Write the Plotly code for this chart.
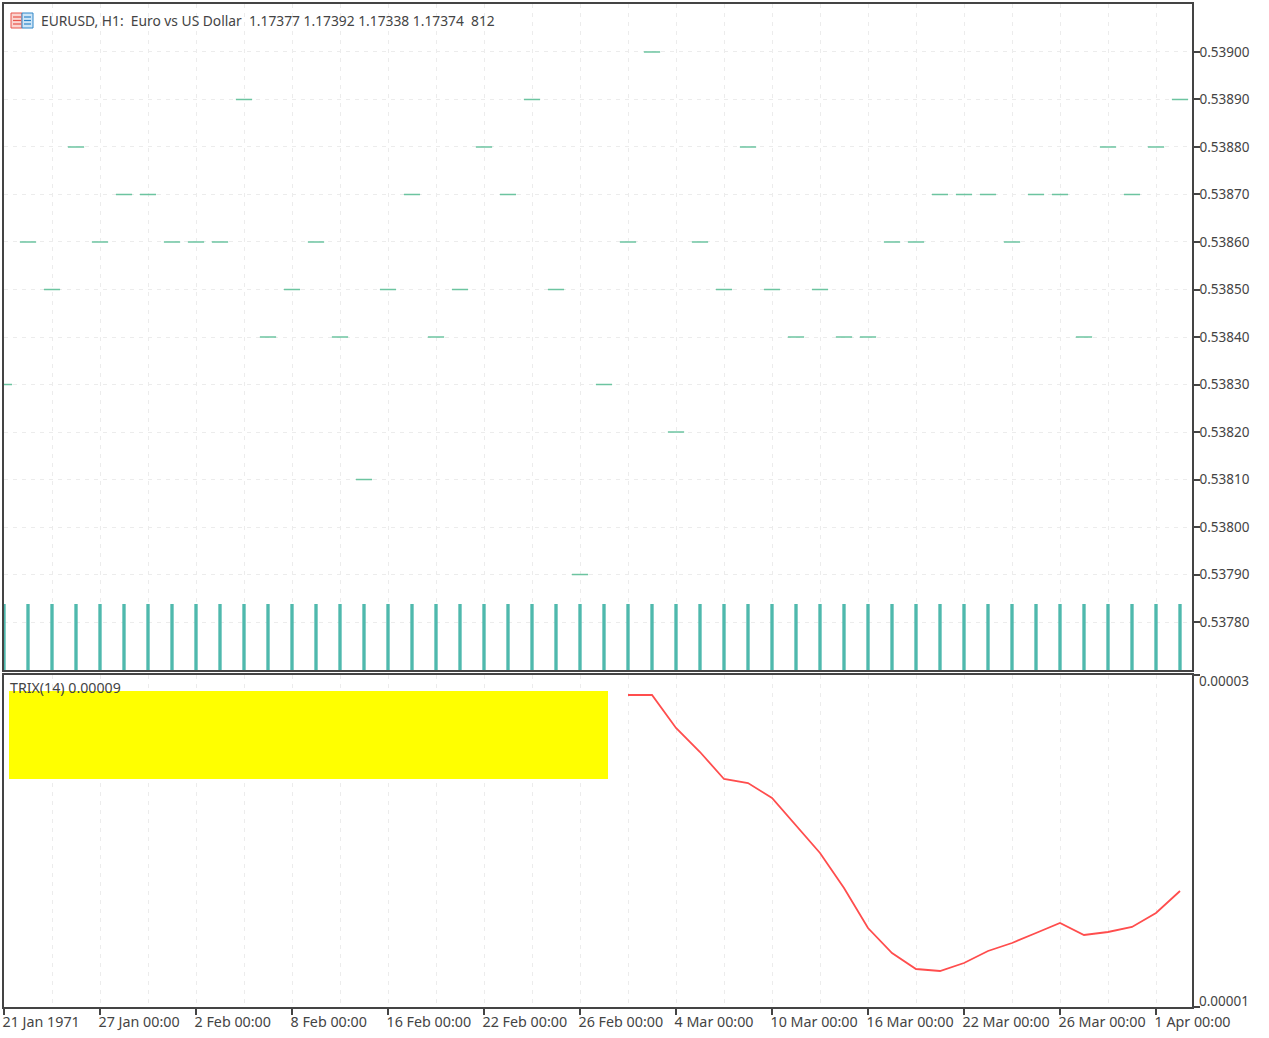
import plotly.graph_objects as go

# ---------- data ----------
BAR_INDEX = list(range(50))
PRICE_DASHES = [
    0.5383, 0.5386, 0.5385, 0.5388, 0.5386, 0.5387, 0.5387, 0.5386, 0.5386, 0.5386,
    0.5389, 0.5384, 0.5385, 0.5386, 0.5384, 0.5381, 0.5385, 0.5387, 0.5384, 0.5385,
    0.5388, 0.5387, 0.5389, 0.5385, 0.5379, 0.5383, 0.5386, 0.5390, 0.5382, 0.5386,
    0.5385, 0.5388, 0.5385, 0.5384, 0.5385, 0.5384, 0.5384, 0.5386, 0.5386, 0.5387,
    0.5387, 0.5387, 0.5386, 0.5387, 0.5387, 0.5384, 0.5388, 0.5387, 0.5388, 0.5389,
]
STEM_TOP = [0.537838] * 50
STEM_BASE = 0.5376
TRIX_INDEX = list(range(26, 50))
TRIX_VALUES = [
    2.8795e-5, 2.8795e-5, 2.6807e-5, 2.5361e-5, 2.3735e-5, 2.3494e-5, 2.2590e-5, 2.0964e-5,
    1.9277e-5, 1.7169e-5, 1.4759e-5, 1.3253e-5, 1.2289e-5, 1.2169e-5, 1.2651e-5, 1.3373e-5,
    1.3855e-5, 1.4458e-5, 1.5060e-5, 1.4337e-5, 1.4518e-5, 1.4819e-5, 1.5663e-5, 1.6988e-5,
]
X_TICK_INDEX = [0, 4, 8, 12, 16, 20, 24, 28, 32, 36, 40, 44, 48]
X_TICK_LABELS = [
    "21 Jan 1971", "27 Jan 00:00", "2 Feb 00:00", "8 Feb 00:00", "16 Feb 00:00",
    "22 Feb 00:00", "26 Feb 00:00", "4 Mar 00:00", "10 Mar 00:00", "16 Mar 00:00",
    "22 Mar 00:00", "26 Mar 00:00", "1 Apr 00:00",
]
PRICE_TICKS = [0.5378, 0.5379, 0.5380, 0.5381, 0.5382, 0.5383, 0.5384,
               0.5385, 0.5386, 0.5387, 0.5388, 0.5389, 0.5390]
PRICE_TICK_LABELS = ["0.53780", "0.53790", "0.53800", "0.53810", "0.53820", "0.53830", "0.53840",
                     "0.53850", "0.53860", "0.53870", "0.53880", "0.53890", "0.53900"]
TRIX_TICKS = [1e-5, 3e-5]
TRIX_TICK_LABELS = ["0.00001", "0.00003"]
TITLE = "EURUSD, H1:\u00a0\u00a0Euro vs US Dollar\u00a0\u00a01.17377 1.17392 1.17338 1.17374\u00a0\u00a0812"
SUBTITLE = "TRIX(14) 0.00009"

# ---------- styling / layout ----------
W, H = 1269, 1038
L, R, T, B = 4, 1192, 4, 1007
FONT = "Noto Sans"
TXT = "#444444"
FRAME = "#444444"
GRID = "#ececec"
FS = 13.5


def px(x):
    return (x - L) / (R - L)


def py(y):
    return (B - y) / (B - T)


def rect(x0, y0, x1, y1, fill, line=None, layer="above"):
    return dict(type="rect", xref="paper", yref="paper", layer=layer,
                x0=px(x0), x1=px(x1), y0=py(y0), y1=py(y1),
                fillcolor=fill, line=dict(width=1 if line else 0, color=line or fill))


fig = go.Figure()
fig.add_trace(go.Bar(x=BAR_INDEX, y=[t - STEM_BASE for t in STEM_TOP], base=STEM_BASE,
                     width=0.14, marker=dict(color="#4fb9ad", line=dict(width=0)),
                     xaxis="x", yaxis="y", hoverinfo="skip"))
fig.add_trace(go.Scatter(x=BAR_INDEX, y=PRICE_DASHES, mode="markers", xaxis="x", yaxis="y",
                         marker=dict(symbol="line-ew", size=11.6,
                                     line=dict(width=1.5, color="#6cc4a0"))))
fig.add_trace(go.Scatter(x=TRIX_INDEX, y=TRIX_VALUES, mode="lines", xaxis="x2", yaxis="y2",
                         line=dict(color="#ff4d4d", width=1.8)))

xcommon = dict(range=[0, 49.5], showline=True, mirror=True, linecolor=FRAME, linewidth=1.5,
               zeroline=False, showgrid=True, gridcolor=GRID, griddash="4px,5px", gridwidth=1,
               tickvals=X_TICK_INDEX,
               minor=dict(dtick=2, tick0=0, showgrid=True, gridcolor=GRID, griddash="4px,5px",
                          gridwidth=1, ticks=""))

shapes = [
    rect(9, 691, 608, 779, "#ffff00"),
    # chart-type icon: red half and blue half with white rows
    rect(11, 13, 22, 28, "#fbd5d0", "#e8544a"),
    rect(22, 13, 33, 28, "#cfe6f7", "#2f86c8"),
]
for yy in (17, 20.5, 24):
    shapes.append(rect(13, yy - 0.6, 21, yy + 0.6, "#e8544a"))
    shapes.append(rect(24, yy - 0.6, 31, yy + 0.6, "#2f86c8"))

annotations = [
    dict(text=TITLE, xref="paper", yref="paper", x=px(39), y=py(20.5), xanchor="left",
         yanchor="middle", showarrow=False, font=dict(family=FONT, size=13.8, color=TXT)),
    dict(text=SUBTITLE, xref="paper", yref="paper", x=px(8), y=py(687), xanchor="left",
         yanchor="middle", showarrow=False, font=dict(family=FONT, size=14.2, color=TXT)),
    dict(text=TRIX_TICK_LABELS[1], xref="paper", yref="paper", x=px(1197), y=py(681), xanchor="left",
         yanchor="middle", showarrow=False, font=dict(family=FONT, size=FS, color=TXT)),
    dict(text=TRIX_TICK_LABELS[0], xref="paper", yref="paper", x=px(1197), y=py(1001), xanchor="left",
         yanchor="middle", showarrow=False, font=dict(family=FONT, size=FS, color=TXT)),
]

fig.update_layout(
    width=W, height=H,
    margin=dict(l=L, r=W - R, t=T, b=H - B, pad=0, autoexpand=False),
    paper_bgcolor="white", plot_bgcolor="white",
    showlegend=False, barmode="overlay",
    font=dict(family=FONT, size=FS, color=TXT),
    shapes=shapes, annotations=annotations,
    xaxis=dict(domain=[0, 1], anchor="y", ticks="", showticklabels=False, **xcommon),
    xaxis2=dict(domain=[0, 1], anchor="y2", ticks="outside", ticklen=6, tickcolor=FRAME, tickwidth=1.5,
                ticktext=X_TICK_LABELS, ticklabelposition="outside right",
                ticklabeloverflow="allow", tickangle=0, ticklabelshift=-3, ticklabelstandoff=1,
                tickfont=dict(family=FONT, size=14.3, color=TXT), **xcommon),
    yaxis=dict(domain=[py(670), 1], anchor="x", side="right", range=[0.537699, 0.539101],
               showline=True, mirror=True, linecolor=FRAME, linewidth=1.5, zeroline=False,
               tickvals=PRICE_TICKS, ticktext=PRICE_TICK_LABELS, ticks="outside", ticklen=6,
               ticklabelstandoff=-3,
               tickcolor=FRAME, tickwidth=1.5, showgrid=True, gridcolor=GRID, griddash="4px,5px",
               tickfont=dict(family=FONT, size=FS, color=TXT)),
    yaxis2=dict(domain=[0, py(675)], anchor="x2", side="right", range=[1e-5, 3e-5],
                showline=True, mirror=True, linecolor=FRAME, linewidth=1.5, zeroline=False,
                tickvals=TRIX_TICKS, ticktext=["", ""], ticks="outside", ticklen=6,
                tickcolor=FRAME, tickwidth=1.5, showgrid=False),
)

fig.write_html("out.html", config=dict(displayModeBar=False),
               post_script="document.body.style.margin='0';document.body.style.overflow='hidden';")
